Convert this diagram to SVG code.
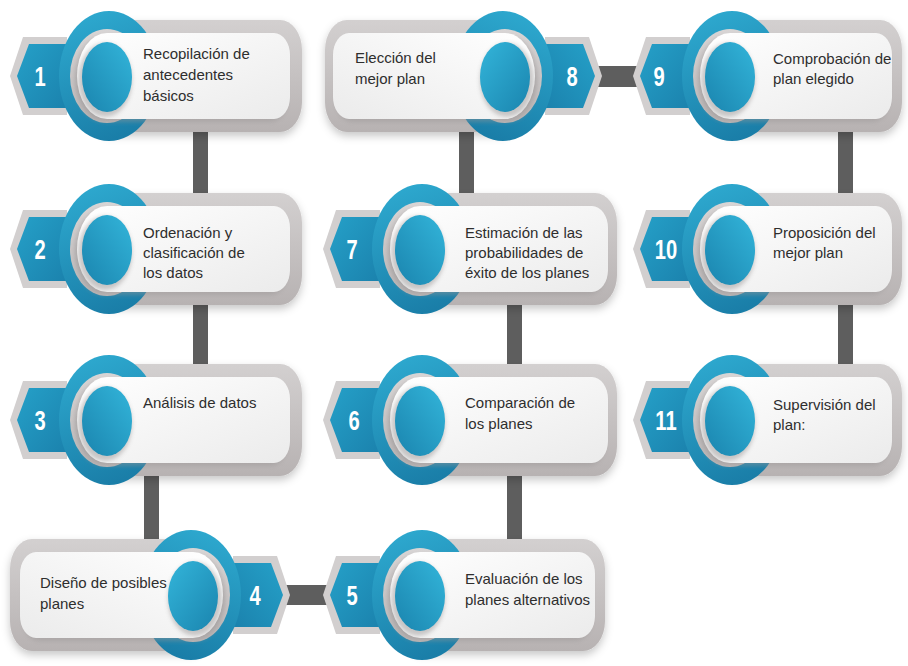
<svg xmlns="http://www.w3.org/2000/svg" xmlns:xlink="http://www.w3.org/1999/xlink" width="908" height="666" viewBox="0 0 908 666">
<defs>
<style>
.lbl{font-family:"Liberation Sans",Arial,sans-serif;font-size:15px;fill:#2e2e2e}
.num{font-family:"Liberation Sans",Arial,sans-serif;font-size:28px;font-weight:bold;fill:#ffffff;text-anchor:middle}
.bar{fill:#5e5e5e}
.gp{fill:url(#gGrey);filter:url(#fDrop)}
.wp{fill:url(#gWhite)}
.ws{fill:#9a9696;opacity:.45;filter:url(#fBlur)}
</style>
<linearGradient id="gGrey" x1="0" y1="0" x2="0" y2="1">
<stop offset="0" stop-color="#d3d0d0"/><stop offset="1" stop-color="#b7b2b2"/>
</linearGradient>
<linearGradient id="gWhite" x1="0" y1="0" x2="1" y2="1">
<stop offset="0" stop-color="#ffffff"/><stop offset="1" stop-color="#ebebeb"/>
</linearGradient>
<linearGradient id="gRing" x1="0.2" y1="0" x2="0.5" y2="1">
<stop offset="0" stop-color="#2eaad0"/><stop offset="1" stop-color="#1a7ea8"/>
</linearGradient>
<linearGradient id="gDot" x1="1" y1="0" x2="0" y2="1">
<stop offset="0" stop-color="#33b5da"/><stop offset="1" stop-color="#1a84ae"/>
</linearGradient>
<linearGradient id="gHex" x1="0" y1="0" x2="1" y2="1">
<stop offset="0" stop-color="#25a0c8"/><stop offset="1" stop-color="#1b82ad"/>
</linearGradient>
<linearGradient id="gBand" x1="0" y1="0" x2="0" y2="1">
<stop offset="0" stop-color="#d8d5d5"/><stop offset="1" stop-color="#bdb8b8"/>
</linearGradient>
<filter id="fDrop" x="-20%" y="-30%" width="140%" height="170%">
<feDropShadow dx="0" dy="4" stdDeviation="4" flood-color="#000" flood-opacity=".22"/>
</filter>
<filter id="fBlur" x="-20%" y="-30%" width="140%" height="160%">
<feGaussianBlur stdDeviation="2"/>
</filter>
<g id="hexring">
<polygon points="-97,0 -84,-39 -40,-39 -40,39 -84,39" fill="#d2cfcf"/>
<polygon points="-90,0 -78,-32 -40,-32 -40,32 -78,32" fill="url(#gHex)"/>
<ellipse cx="2" cy="0" rx="50" ry="65" fill="url(#gRing)"/>
<ellipse cx="0" cy="0" rx="37" ry="47" fill="url(#gBand)"/>
</g>
<g id="dot">
<ellipse cx="-2" cy="4" rx="27" ry="37" fill="#8f8b8b" opacity=".45" filter="url(#fBlur)"/>
<ellipse cx="0" cy="1" rx="25" ry="35" fill="url(#gDot)"/>
</g>
</defs>

<rect width="908" height="666" fill="#ffffff"/>

<g id="connectors">
<rect class="bar" x="193" y="120" width="15" height="90"/>
<rect class="bar" x="193" y="295" width="15" height="80"/>
<rect class="bar" x="144" y="465" width="15" height="85"/>
<rect class="bar" x="285" y="585" width="45" height="20"/>
<rect class="bar" x="507" y="465" width="15" height="85"/>
<rect class="bar" x="507" y="295" width="15" height="80"/>
<rect class="bar" x="459" y="120" width="15" height="90"/>
<rect class="bar" x="598" y="66" width="42" height="21"/>
<rect class="bar" x="838" y="120" width="15" height="90"/>
<rect class="bar" x="838" y="295" width="15" height="80"/>
</g>

<g id="node1">
<g transform="translate(107,76)">
<path class="gp" d="M0,-56 H173 A22 30 0 0 1 195,-26 V26 A22 30 0 0 1 173,56 H0 A10 56 0 0 1 0,-56 Z"/>
<use xlink:href="#hexring" href="#hexring"/>
<path class="ws" transform="translate(-3,3)" d="M0,-43 H167 A16 22 0 0 1 183,-21 V21 A16 22 0 0 1 167,43 H0 A30 43 0 0 1 0,-43 Z"/>
<path class="wp" d="M0,-43 H167 A16 22 0 0 1 183,-21 V21 A16 22 0 0 1 167,43 H0 A30 43 0 0 1 0,-43 Z"/>
<use xlink:href="#dot" href="#dot"/>
</g>
<text class="num" transform="translate(40,86) scale(0.72,1)">1</text>
<text class="lbl"><tspan x="143" y="59">Recopilación de</tspan><tspan x="143" y="80">antecedentes</tspan><tspan x="143" y="101">básicos</tspan></text>
</g>

<g id="node2">
<g transform="translate(107,249)">
<path class="gp" d="M0,-56 H173 A22 30 0 0 1 195,-26 V26 A22 30 0 0 1 173,56 H0 A10 56 0 0 1 0,-56 Z"/>
<use xlink:href="#hexring" href="#hexring"/>
<path class="ws" transform="translate(-3,3)" d="M0,-43 H167 A16 22 0 0 1 183,-21 V21 A16 22 0 0 1 167,43 H0 A30 43 0 0 1 0,-43 Z"/>
<path class="wp" d="M0,-43 H167 A16 22 0 0 1 183,-21 V21 A16 22 0 0 1 167,43 H0 A30 43 0 0 1 0,-43 Z"/>
<use xlink:href="#dot" href="#dot"/>
</g>
<text class="num" transform="translate(40,259) scale(0.72,1)">2</text>
<text class="lbl"><tspan x="143" y="238">Ordenación y</tspan><tspan x="143" y="258">clasificación de</tspan><tspan x="143" y="278">los datos</tspan></text>
</g>

<g id="node3">
<g transform="translate(107,420)">
<path class="gp" d="M0,-56 H173 A22 30 0 0 1 195,-26 V26 A22 30 0 0 1 173,56 H0 A10 56 0 0 1 0,-56 Z"/>
<use xlink:href="#hexring" href="#hexring"/>
<path class="ws" transform="translate(-3,3)" d="M0,-43 H167 A16 22 0 0 1 183,-21 V21 A16 22 0 0 1 167,43 H0 A30 43 0 0 1 0,-43 Z"/>
<path class="wp" d="M0,-43 H167 A16 22 0 0 1 183,-21 V21 A16 22 0 0 1 167,43 H0 A30 43 0 0 1 0,-43 Z"/>
<use xlink:href="#dot" href="#dot"/>
</g>
<text class="num" transform="translate(40,430) scale(0.72,1)">3</text>
<text class="lbl"><tspan x="143" y="408">Análisis de datos</tspan></text>
</g>

<g id="node4">
<g transform="translate(193,595) scale(-1,1)">
<path class="gp" d="M0,-56 H161 A22 30 0 0 1 183,-26 V26 A22 30 0 0 1 161,56 H0 A10 56 0 0 1 0,-56 Z"/>
<use xlink:href="#hexring" href="#hexring"/>
<path class="ws" transform="translate(-3,3)" d="M0,-43 H157 A16 22 0 0 1 173,-21 V21 A16 22 0 0 1 157,43 H0 A30 43 0 0 1 0,-43 Z"/>
<path class="wp" d="M0,-43 H157 A16 22 0 0 1 173,-21 V21 A16 22 0 0 1 157,43 H0 A30 43 0 0 1 0,-43 Z"/>
<use xlink:href="#dot" href="#dot"/>
</g>
<text class="num" transform="translate(255,605) scale(0.72,1)">4</text>
<text class="lbl"><tspan x="40" y="588">Diseño de posibles</tspan><tspan x="40" y="609">planes</tspan></text>
</g>

<g id="node5">
<g transform="translate(420,595)">
<path class="gp" d="M0,-56 H163 A22 30 0 0 1 185,-26 V26 A22 30 0 0 1 163,56 H0 A10 56 0 0 1 0,-56 Z"/>
<use xlink:href="#hexring" href="#hexring"/>
<path class="ws" transform="translate(-3,3)" d="M0,-43 H159 A16 22 0 0 1 175,-21 V21 A16 22 0 0 1 159,43 H0 A30 43 0 0 1 0,-43 Z"/>
<path class="wp" d="M0,-43 H159 A16 22 0 0 1 175,-21 V21 A16 22 0 0 1 159,43 H0 A30 43 0 0 1 0,-43 Z"/>
<use xlink:href="#dot" href="#dot"/>
</g>
<text class="num" transform="translate(352,605) scale(0.72,1)">5</text>
<text class="lbl"><tspan x="465" y="584">Evaluación de los</tspan><tspan x="465" y="605">planes alternativos</tspan></text>
</g>

<g id="node6">
<g transform="translate(420,420)">
<path class="gp" d="M0,-56 H175 A22 30 0 0 1 197,-26 V26 A22 30 0 0 1 175,56 H0 A10 56 0 0 1 0,-56 Z"/>
<use xlink:href="#hexring" href="#hexring"/>
<path class="ws" transform="translate(-3,3)" d="M0,-43 H172 A16 22 0 0 1 188,-21 V21 A16 22 0 0 1 172,43 H0 A30 43 0 0 1 0,-43 Z"/>
<path class="wp" d="M0,-43 H172 A16 22 0 0 1 188,-21 V21 A16 22 0 0 1 172,43 H0 A30 43 0 0 1 0,-43 Z"/>
<use xlink:href="#dot" href="#dot"/>
</g>
<text class="num" transform="translate(354,430) scale(0.72,1)">6</text>
<text class="lbl"><tspan x="465" y="408">Comparación de</tspan><tspan x="465" y="429">los planes</tspan></text>
</g>

<g id="node7">
<g transform="translate(420,249)">
<path class="gp" d="M0,-56 H175 A22 30 0 0 1 197,-26 V26 A22 30 0 0 1 175,56 H0 A10 56 0 0 1 0,-56 Z"/>
<use xlink:href="#hexring" href="#hexring"/>
<path class="ws" transform="translate(-3,3)" d="M0,-43 H172 A16 22 0 0 1 188,-21 V21 A16 22 0 0 1 172,43 H0 A30 43 0 0 1 0,-43 Z"/>
<path class="wp" d="M0,-43 H172 A16 22 0 0 1 188,-21 V21 A16 22 0 0 1 172,43 H0 A30 43 0 0 1 0,-43 Z"/>
<use xlink:href="#dot" href="#dot"/>
</g>
<text class="num" transform="translate(352,259) scale(0.72,1)">7</text>
<text class="lbl"><tspan x="465" y="238">Estimación de las</tspan><tspan x="465" y="258">probabilidades de</tspan><tspan x="465" y="278">éxito de los planes</tspan></text>
</g>

<g id="node8">
<g transform="translate(505,76) scale(-1,1)">
<path class="gp" d="M0,-56 H158 A22 30 0 0 1 180,-26 V26 A22 30 0 0 1 158,56 H0 A10 56 0 0 1 0,-56 Z"/>
<use xlink:href="#hexring" href="#hexring"/>
<path class="ws" transform="translate(-3,3)" d="M0,-43 H156 A16 22 0 0 1 172,-21 V21 A16 22 0 0 1 156,43 H0 A30 43 0 0 1 0,-43 Z"/>
<path class="wp" d="M0,-43 H156 A16 22 0 0 1 172,-21 V21 A16 22 0 0 1 156,43 H0 A30 43 0 0 1 0,-43 Z"/>
<use xlink:href="#dot" href="#dot"/>
</g>
<text class="num" transform="translate(572,86) scale(0.72,1)">8</text>
<text class="lbl"><tspan x="355" y="63">Elección del</tspan><tspan x="355" y="84">mejor plan</tspan></text>
</g>

<g id="node9">
<g transform="translate(730,76)">
<path class="gp" d="M0,-56 H150 A22 30 0 0 1 172,-26 V26 A22 30 0 0 1 150,56 H0 A10 56 0 0 1 0,-56 Z"/>
<use xlink:href="#hexring" href="#hexring"/>
<path class="ws" transform="translate(-3,3)" d="M0,-43 H146 A16 22 0 0 1 162,-21 V21 A16 22 0 0 1 146,43 H0 A30 43 0 0 1 0,-43 Z"/>
<path class="wp" d="M0,-43 H146 A16 22 0 0 1 162,-21 V21 A16 22 0 0 1 146,43 H0 A30 43 0 0 1 0,-43 Z"/>
<use xlink:href="#dot" href="#dot"/>
</g>
<text class="num" transform="translate(659,86) scale(0.72,1)">9</text>
<text class="lbl"><tspan x="773" y="64">Comprobación de</tspan><tspan x="773" y="84">plan elegido</tspan></text>
</g>

<g id="node10">
<g transform="translate(730,249)">
<path class="gp" d="M0,-56 H150 A22 30 0 0 1 172,-26 V26 A22 30 0 0 1 150,56 H0 A10 56 0 0 1 0,-56 Z"/>
<use xlink:href="#hexring" href="#hexring"/>
<path class="ws" transform="translate(-3,3)" d="M0,-43 H146 A16 22 0 0 1 162,-21 V21 A16 22 0 0 1 146,43 H0 A30 43 0 0 1 0,-43 Z"/>
<path class="wp" d="M0,-43 H146 A16 22 0 0 1 162,-21 V21 A16 22 0 0 1 146,43 H0 A30 43 0 0 1 0,-43 Z"/>
<use xlink:href="#dot" href="#dot"/>
</g>
<text class="num" transform="translate(666,259) scale(0.72,1)">10</text>
<text class="lbl"><tspan x="773" y="238">Proposición del</tspan><tspan x="773" y="258">mejor plan</tspan></text>
</g>

<g id="node11">
<g transform="translate(730,420)">
<path class="gp" d="M0,-56 H150 A22 30 0 0 1 172,-26 V26 A22 30 0 0 1 150,56 H0 A10 56 0 0 1 0,-56 Z"/>
<use xlink:href="#hexring" href="#hexring"/>
<path class="ws" transform="translate(-3,3)" d="M0,-43 H146 A16 22 0 0 1 162,-21 V21 A16 22 0 0 1 146,43 H0 A30 43 0 0 1 0,-43 Z"/>
<path class="wp" d="M0,-43 H146 A16 22 0 0 1 162,-21 V21 A16 22 0 0 1 146,43 H0 A30 43 0 0 1 0,-43 Z"/>
<use xlink:href="#dot" href="#dot"/>
</g>
<text class="num" transform="translate(666,430) scale(0.72,1)">11</text>
<text class="lbl"><tspan x="773" y="410">Supervisión del</tspan><tspan x="773" y="430">plan:</tspan></text>
</g>
</svg>
